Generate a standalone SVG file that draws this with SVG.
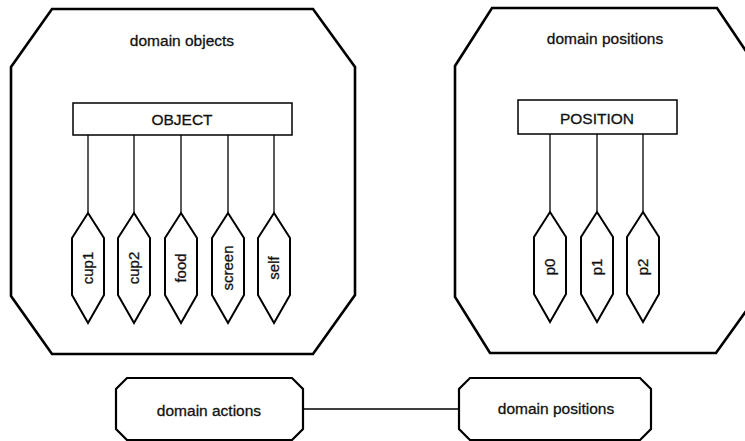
<svg xmlns="http://www.w3.org/2000/svg" width="745" height="441" viewBox="0 0 745 441">
  <defs>
    <style>
      .domain { fill: #fff; stroke: #000; stroke-width: 2.6; stroke-linejoin: miter; }
      .cls { fill: #fff; stroke: #000; stroke-width: 1.5; }
      .inst { fill: #fff; stroke: #000; stroke-width: 2; stroke-linejoin: miter; }
      .box { fill: #fff; stroke: #000; stroke-width: 2.2; }
      .link { fill: none; stroke: #000; stroke-width: 1.3; }
      text { font-family: "Liberation Sans", Arial, sans-serif; font-size: 15.5px; fill: #111; stroke: #111; stroke-width: 0.3; text-anchor: middle; }
      .vt { font-size: 15px; }
    </style>
    <!-- instance hexagon, centred on (0,0) -->
    <polygon id="hex" points="0,-55 16,-30 16,27 0,55 -16,27 -16,-30"/>
  </defs>
  <rect width="745" height="441" fill="#fff"/>

  <!-- domain objects -->
  <g id="domain-objects">
    <polygon class="domain" points="52,9 313,9 355,67 355,295 313,354 52,354 11,296 11,67"/>
    <text x="182" y="46">domain objects</text>
  </g>

  <!-- domain positions -->
  <g id="domain-positions">
    <polygon class="domain" points="492,8 717,8 756,66 756,297 716,353 490,353 455,297 455,66"/>
    <text x="605" y="44">domain positions</text>
  </g>

  <!-- connectors -->
  <g id="connectors">
    <line class="link" x1="88" y1="135" x2="88" y2="213"/>
    <line class="link" x1="134" y1="135" x2="134" y2="213"/>
    <line class="link" x1="181" y1="135" x2="181" y2="213"/>
    <line class="link" x1="228" y1="135" x2="228" y2="213"/>
    <line class="link" x1="274" y1="135" x2="274" y2="213"/>
    <line class="link" x1="550" y1="134" x2="550" y2="213"/>
    <line class="link" x1="597" y1="134" x2="597" y2="213"/>
    <line class="link" x1="643" y1="134" x2="643" y2="213"/>
    <line class="link" x1="303" y1="409" x2="459" y2="409"/>
  </g>

  <g id="OBJECT">
    <rect class="cls" x="73" y="103" width="219" height="32"/>
    <text x="182" y="124.5">OBJECT</text>
  </g>
  <g id="POSITION">
    <rect class="cls" x="518" y="100" width="159" height="34"/>
    <text x="597" y="123.5">POSITION</text>
  </g>

  <g id="cup1">
    <use href="#hex" class="inst" x="88" y="268"/>
    <text class="vt" transform="translate(93,268) rotate(-90)">cup1</text>
  </g>
  <g id="cup2">
    <use href="#hex" class="inst" x="134" y="268"/>
    <text class="vt" transform="translate(139,268) rotate(-90)">cup2</text>
  </g>
  <g id="food">
    <use href="#hex" class="inst" x="181" y="268"/>
    <text class="vt" transform="translate(186,268) rotate(-90)">food</text>
  </g>
  <g id="screen">
    <use href="#hex" class="inst" x="228" y="268"/>
    <text class="vt" transform="translate(233,268) rotate(-90)">screen</text>
  </g>
  <g id="self">
    <use href="#hex" class="inst" x="274" y="268"/>
    <text class="vt" transform="translate(279,268) rotate(-90)">self</text>
  </g>

  <g id="p0">
    <use href="#hex" class="inst" x="550" y="267"/>
    <text class="vt" transform="translate(555,267) rotate(-90)">p0</text>
  </g>
  <g id="p1">
    <use href="#hex" class="inst" x="597" y="267"/>
    <text class="vt" transform="translate(602,267) rotate(-90)">p1</text>
  </g>
  <g id="p2">
    <use href="#hex" class="inst" x="643" y="267"/>
    <text class="vt" transform="translate(648,267) rotate(-90)">p2</text>
  </g>

  <g id="domain-actions">
    <polygon class="box" points="127,378 292,378 303,389 303,429 292,440 127,440 116,429 116,389"/>
    <text x="209" y="416">domain actions</text>
  </g>
  <g id="domain-positions-ref">
    <polygon class="box" points="470,378 640,378 651,389 651,429 640,440 470,440 459,429 459,389"/>
    <text x="556" y="414">domain positions</text>
  </g>
</svg>
